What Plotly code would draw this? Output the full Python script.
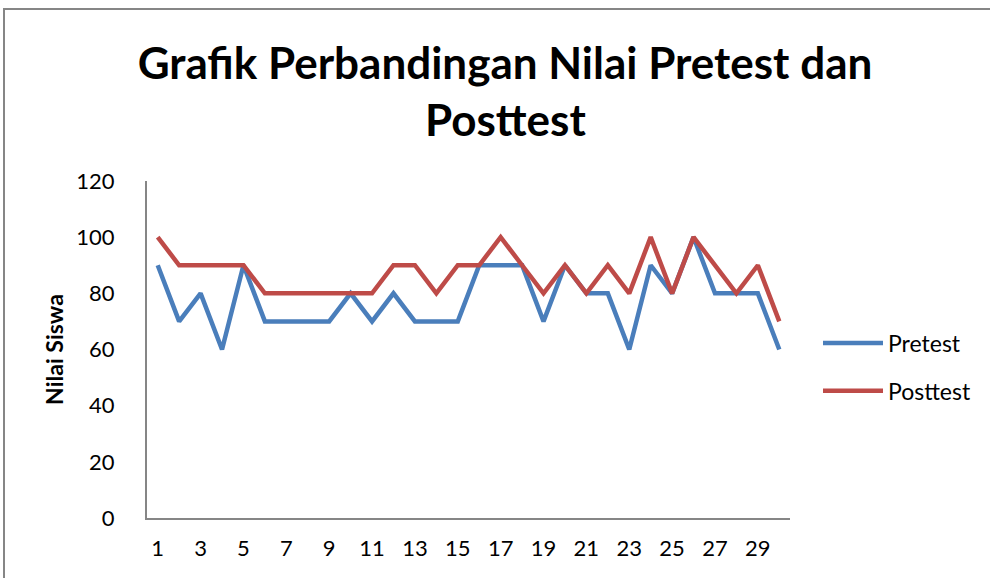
import plotly.graph_objects as go

students = list(range(1, 31))
pretest = [90, 70, 80, 60, 90, 70, 70, 70, 70, 80,
           70, 80, 70, 70, 70, 90, 90, 90, 70, 90,
           80, 80, 60, 90, 80, 100, 80, 80, 80, 60]
posttest = [100, 90, 90, 90, 90, 80, 80, 80, 80, 80,
            80, 90, 90, 80, 90, 90, 100, 90, 80, 90,
            80, 90, 80, 100, 80, 100, 90, 80, 90, 70]
x_ticks = list(range(1, 31, 2))
y_ticks = [0, 20, 40, 60, 80, 100, 120]

FONT = "Lato"
W, H = 990, 578
L, R, T, B = 147, 200, 181, 60
pw, ph = W - L - R, H - T - B

def px(x):
    return (x - L) / pw

def py(y):
    return (H - B - y) / ph

fig = go.Figure()
fig.add_trace(go.Scatter(x=students, y=pretest, name="Pretest", mode="lines",
                         line=dict(color="#4A7EBB", width=4.5), legendgroup="a"))
fig.add_trace(go.Scatter(x=students, y=posttest, name="Posttest", mode="lines",
                         line=dict(color="#BE4B48", width=4.5), legendgroup="b"))

fig.update_layout(
    width=W, height=H,
    margin=dict(l=L, r=R, t=T, b=B),
    paper_bgcolor="white", plot_bgcolor="white",
    font=dict(family=FONT, color="black", size=22),
    title=dict(text="<b>Grafik Perbandingan Nilai Pretest dan</b>",
               x=px(505), xanchor="center", y=1 - 64 / H, yanchor="middle",
               xref="paper", font=dict(family=FONT, size=44, color="black")),
    showlegend=True,
    legend=dict(x=px(818), xanchor="left", y=py(367), yanchor="middle",
                font=dict(family=FONT, size=23, color="black"),
                itemwidth=60,
                tracegroupgap=15, bgcolor="rgba(0,0,0,0)"),
    xaxis=dict(range=[0.5, 30.5], tickmode="array", tickvals=x_ticks,
               ticktext=[str(v) for v in x_ticks], showgrid=False, zeroline=False,
               showline=True, linecolor="#868686", linewidth=2, ticks="",
               ticklabelstandoff=10, tickangle=0,
               tickfont=dict(family=FONT, size=22, color="black")),
    yaxis=dict(range=[0, 120], tickvals=y_ticks, showgrid=False, zeroline=False,
               showline=True, linecolor="#868686", linewidth=2, ticks="",
               ticklabelstandoff=26,
               tickfont=dict(family=FONT, size=22, color="black"),
               title=dict(text="<b>Nilai Siswa</b>", standoff=6,
                          font=dict(family=FONT, size=23, color="black"))),
    annotations=[dict(text="<b>Posttest</b>", xref="paper", yref="paper",
                      x=px(505), y=py(119), xanchor="center", yanchor="middle",
                      showarrow=False, font=dict(family=FONT, size=44, color="black"))],
    shapes=[dict(type="rect", xref="paper", yref="paper",
                 x0=px(4), x1=px(995), y0=py(585), y1=py(9),
                 line=dict(color="#868686", width=2), fillcolor="rgba(0,0,0,0)",
                 layer="below")],
)

fig.write_html("out.html", config={"displayModeBar": False},
               post_script="document.body.style.margin='0';")
